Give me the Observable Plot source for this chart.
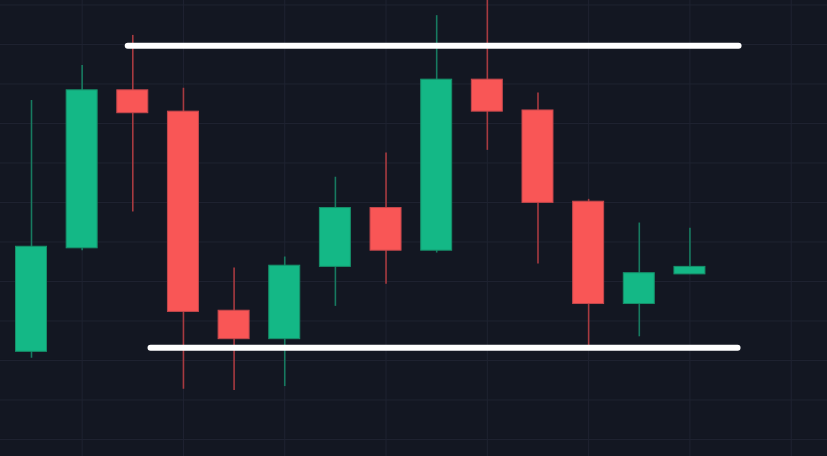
<!DOCTYPE html>
<html>
<head>
<meta charset="utf-8">
<script src="https://cdn.jsdelivr.net/npm/d3@7"></script>
<script src="https://cdn.jsdelivr.net/npm/@observablehq/plot@0.6"></script>
<style>
  html, body { margin: 0; padding: 0; background: #131722; overflow: hidden; }
  #chart svg { display: block; }
</style>
</head>
<body>
<div id="chart"></div>
<script>
const opens  = [122.2, 148.4, 188.4, 183.0, 132.6, 125.4, 143.7, 158.6, 147.8, 191.1, 183.3, 160.2, 134.3, 141.8];
const highs  = [185.8, 194.7, 202.3, 188.9, 143.4, 146.2, 166.4, 172.5, 207.3, 211.5, 187.7, 160.8, 154.8, 153.5];
const lows   = [120.6, 147.8, 157.6, 112.7, 112.4, 113.4, 133.7, 139.3, 147.2, 173.2, 144.4, 123.6, 126.0, 141.8];
const closes = [148.8, 188.4, 182.6, 132.3, 125.4, 144.0, 158.6, 147.8, 191.1, 183.0, 159.9, 134.3, 142.1, 143.7];

const levelPrices = [199.7, 123.2];
const levelStarts = [1.9, 2.35];
const levelEnds   = [13.96, 13.94];

const gridXTicks = [1, 3, 5, 7, 9, 11, 13, 15];
const gridYTicks = [100, 110, 120, 130, 140, 150, 160, 170, 180, 190, 200, 210];

const candles = opens.map((o, i) => ({
  i, open: o, high: highs[i], low: lows[i], close: closes[i], up: closes[i] >= o
}));
const levels = levelPrices.map((p, k) => ({ price: p, x1: levelStarts[k], x2: levelEnds[k] }));

const W = 827, H = 456;
const half = 0.306;

const chart = Plot.plot({
  width: W,
  height: H,
  margin: 0,
  style: { background: "#131722", overflow: "hidden" },
  x: { type: "linear", domain: [-0.612, 15.716], axis: null },
  y: { type: "linear", domain: [95.696, 211.139], axis: null },
  marks: [
    Plot.ruleX(gridXTicks, { stroke: "#1f2331", strokeWidth: 1 }),
    Plot.ruleY(gridYTicks, { stroke: "#1f2331", strokeWidth: 1 }),
    Plot.ruleX(candles, {
      x: "i", y1: "low", y2: "high",
      stroke: d => d.up ? "#177a60" : "#a73a40",
      strokeWidth: 1.6
    }),
    Plot.rect(candles, {
      x1: d => d.i - half, x2: d => d.i + half,
      y1: "open", y2: "close",
      fill: d => d.up ? "#14b886" : "#f95656",
      stroke: d => d.up ? "#168f69" : "#c2474c",
      strokeWidth: 1,
      inset: 0
    }),
    Plot.link(levels, {
      x1: "x1", x2: "x2", y1: "price", y2: "price",
      stroke: "#ffffff", strokeWidth: 6, strokeLinecap: "round"
    })
  ]
});
document.getElementById("chart").appendChild(chart);
</script>
</body>
</html>
